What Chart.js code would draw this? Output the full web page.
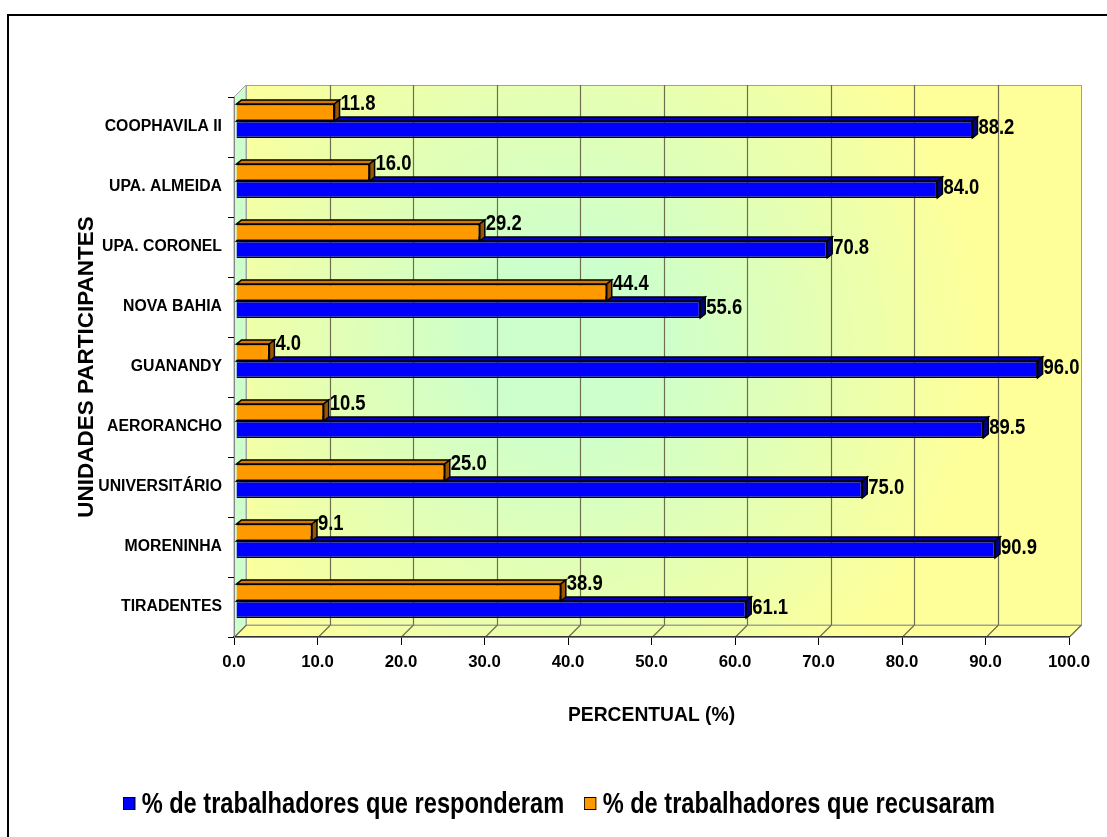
<!DOCTYPE html>
<html>
<head>
<meta charset="utf-8">
<script src="https://cdn.jsdelivr.net/npm/chart.js@4"></script>
<style>
  html, body { margin: 0; padding: 0; background: #fff; overflow: hidden; }
  #wrap { position: relative; width: 1107px; height: 837px; }
  #frame { position: absolute; left: 7px; top: 14px; width: 1200px; height: 1000px; border: 2px solid #000; }
  #cv { position: absolute; left: 0; top: 0; }
  .item { position: absolute; top: 789px; height: 28px; display: flex; align-items: center;
          font-weight: bold; line-height: 28px; color: #000; white-space: nowrap; transform-origin: 0 50%; }
  .box { width: 11px; height: 11px; border: 1px solid #000; margin-right: 8px; }
</style>
</head>
<body>
<div id="wrap">
  <div id="frame"></div>
  <canvas id="cv" width="1107" height="837"></canvas>
  <div id="legend"></div>
</div>
<script>
const categories = ['COOPHAVILA II', 'UPA. ALMEIDA', 'UPA. CORONEL', 'NOVA BAHIA', 'GUANANDY', 'AERORANCHO', 'UNIVERSITÁRIO', 'MORENINHA', 'TIRADENTES'];
const responded = [88.2, 84.0, 70.8, 55.6, 96.0, 89.5, 75.0, 90.9, 61.1];
const refused = [11.8, 16.0, 29.2, 44.4, 4.0, 10.5, 25.0, 9.1, 38.9];
const xTicks = [0, 10, 20, 30, 40, 50, 60, 70, 80, 90, 100];
const seriesNames = ['% de trabalhadores que responderam', '% de trabalhadores que recusaram'];
const xTitle = 'PERCENTUAL (%)';
const yTitle = 'UNIDADES PARTICIPANTES';

// Font selection: prefer a narrow sans (reference looks like Arial Narrow); fall back to scaled regular.
const REG = '"Liberation Sans", Arial, sans-serif';
const NARROW = '"Liberation Sans Narrow", "Arial Narrow"';
const mctx = document.createElement('canvas').getContext('2d');
mctx.font = 'bold 20px "Liberation Sans"';
const wReg = mctx.measureText('COOPHAVILA II').width;
mctx.font = 'bold 20px ' + NARROW + ', "Liberation Sans"';
const wNar = mctx.measureText('COOPHAVILA II').width;
const narrowOK = wNar < 0.9 * wReg;
const TXT = narrowOK ? NARROW + ', ' + REG : REG;
const K = narrowOK ? 1 : 0.82;
const sz = s => Math.round(s * K * 10) / 10;

const BLUE = '#0000ff', BLUE_TOP = '#0000c0', BLUE_SIDE = '#000080';
const ORANGE = '#ff9900', ORANGE_TOP = '#d07800', ORANGE_SIDE = '#995500';

const WALL = 12;          // depth of 3D walls
const BDX = 5, BDY = 4;   // bar depth
const SHIFT_X = 2, SHIFT_Y = -6;

function wallGradient(ctx, a) {
  const cx = a.left + (a.right - a.left) * 0.40;
  const cy = a.top + (a.bottom - a.top) * 0.45;
  const g = ctx.createRadialGradient(cx, cy, 0, cx, cy, 420);
  g.addColorStop(0, '#ccffcc');
  g.addColorStop(0.2, '#ccffcc');
  g.addColorStop(1, '#ffff99');
  return g;
}

const wallsPlugin = {
  id: 'walls',
  beforeDraw(chart) {
    const {ctx, chartArea: a} = chart;
    const xs = chart.scales.x;
    const d = WALL;
    ctx.save();
    const g = wallGradient(ctx, a);
    ctx.fillStyle = g;
    ctx.fillRect(a.left + d, a.top - d, a.right - a.left, a.bottom - a.top);
    ctx.beginPath();
    ctx.moveTo(a.left, a.bottom);
    ctx.lineTo(a.left + d, a.bottom - d);
    ctx.lineTo(a.right + d, a.bottom - d);
    ctx.lineTo(a.right, a.bottom);
    ctx.closePath();
    ctx.fillStyle = g;
    ctx.fill();
    ctx.strokeStyle = '#a0a0a0';
    ctx.lineWidth = 1;
    ctx.stroke();
    ctx.beginPath();
    ctx.moveTo(a.left, a.top);
    ctx.lineTo(a.left + d, a.top - d);
    ctx.lineTo(a.left + d, a.bottom - d);
    ctx.lineTo(a.left, a.bottom);
    ctx.closePath();
    ctx.fillStyle = '#ccffcc';
    ctx.fill();
    ctx.stroke();
    ctx.strokeRect(a.left + d + 0.5, a.top - d + 0.5, a.right - a.left, a.bottom - a.top);
    ctx.strokeStyle = '#6e6e50';
    ctx.lineWidth = 1.2;
    xTicks.forEach(v => {
      const px = Math.round(xs.getPixelForValue(v)) + 0.5;
      ctx.beginPath();
      if (v > xTicks[0] && v < xTicks[xTicks.length - 1]) {
        ctx.moveTo(px + d, a.top - d);
        ctx.lineTo(px + d, a.bottom - d);
      }
      ctx.moveTo(px, a.bottom);
      ctx.lineTo(px + d, a.bottom - d);
      ctx.stroke();
    });
    ctx.restore();
  },
  beforeDatasetsDraw(chart) {
    chart.ctx.save();
    chart.ctx.translate(SHIFT_X, SHIFT_Y);
  },
  afterDatasetDraw(chart, args) {
    const {ctx} = chart;
    const meta = args.meta;
    const ds = chart.data.datasets[args.index];
    ctx.save();
    ctx.lineWidth = 1.5;
    ctx.strokeStyle = '#000';
    meta.data.forEach((el, i) => {
      const p = el.getProps(['x', 'y', 'base', 'height'], true);
      const top = p.y - p.height / 2, bot = p.y + p.height / 2;
      const l = p.base, r = p.x;
      ctx.beginPath();
      ctx.moveTo(l, top);
      ctx.lineTo(l + BDX, top - BDY);
      ctx.lineTo(r + BDX, top - BDY);
      ctx.lineTo(r, top);
      ctx.closePath();
      ctx.fillStyle = ds.topColor;
      ctx.fill();
      ctx.stroke();
      ctx.beginPath();
      ctx.moveTo(r, top);
      ctx.lineTo(r + BDX, top - BDY);
      ctx.lineTo(r + BDX, bot - BDY);
      ctx.lineTo(r, bot);
      ctx.closePath();
      ctx.fillStyle = ds.sideColor;
      ctx.fill();
      ctx.stroke();
      // value label (narrow look: horizontally compressed if no narrow font)
      ctx.save();
      ctx.translate(r + BDX + 1, p.y + ds.labelDy);
      ctx.scale(K, 1);
      ctx.fillStyle = '#000';
      ctx.font = 'bold 22.5px ' + TXT;
      ctx.textAlign = 'left';
      ctx.textBaseline = 'middle';
      ctx.fillText(ds.data[i].toFixed(1), 0, 0);
      ctx.restore();
    });
    ctx.restore();
  },
  afterDatasetsDraw(chart) {
    chart.ctx.restore();
  }
};

const ctx = document.getElementById('cv').getContext('2d');
new Chart(ctx, {
  type: 'bar',
  data: {
    labels: categories,
    datasets: [
      { label: seriesNames[1], data: refused, backgroundColor: ORANGE, borderColor: '#000', borderWidth: 1.5,
        topColor: ORANGE_TOP, sideColor: ORANGE_SIDE, labelDy: -9, clip: false },
      { label: seriesNames[0], data: responded, backgroundColor: BLUE, borderColor: '#000', borderWidth: 1.5,
        topColor: BLUE_TOP, sideColor: BLUE_SIDE, labelDy: -2, clip: false }
    ]
  },
  options: {
    indexAxis: 'y',
    responsive: false,
    animation: false,
    devicePixelRatio: 1,
    categoryPercentage: 0.567,
    barPercentage: 1,
    layout: { padding: { top: 97, right: 38, bottom: 110, left: 38 } },
    plugins: {
      legend: { display: false },
      tooltip: { enabled: false }
    },
    scales: {
      x: {
        min: 0, max: 100,
        afterBuildTicks: s => { s.ticks = xTicks.map(v => ({ value: v })); },
        afterFit: s => { s.height = 90; },
        ticks: { color: '#000', font: { family: TXT, size: sz(20.5), weight: 'bold' }, padding: 7,
                 callback: v => Number(v).toFixed(1), maxRotation: 0, autoSkip: false },
        grid: { drawOnChartArea: false, drawTicks: true, tickLength: 8, color: '#000', lineWidth: 1 },
        border: { display: true, color: '#333', width: 1.5 },
        title: { display: true, text: xTitle, color: '#000', padding: { top: 0, bottom: 0 },
                 font: { family: TXT, size: sz(23.5), weight: 'bold' } }
      },
      y: {
        afterFit: s => { s.width = 196; },
        ticks: { color: '#000', font: { family: TXT, size: sz(19.3), weight: 'bold' }, padding: 6 },
        grid: { drawOnChartArea: false, drawTicks: true, tickLength: 6, color: '#000', offset: true },
        border: { display: true, color: '#888', width: 1 },
        title: { display: true, text: yTitle, color: '#000', padding: { top: 35, bottom: 0 },
                 font: { family: REG, size: 22.5, weight: 'bold' } }
      }
    }
  },
  plugins: [wallsPlugin]
});

// legend (blue first, as in the reference)
const legend = document.getElementById('legend');
[[seriesNames[0], BLUE, 123], [seriesNames[1], ORANGE, 584]].forEach(([name, col, left]) => {
  const it = document.createElement('div');
  it.className = 'item';
  it.style.left = left + 'px';
  it.style.fontFamily = TXT;
  it.style.fontSize = '28.8px';
  it.style.transform = 'scaleX(' + K + ')';
  const b = document.createElement('div');
  b.className = 'box';
  b.style.width = (11 / K) + 'px';
  b.style.marginRight = (6 / K) + 'px';
  b.style.background = col;
  const t = document.createElement('span');
  t.textContent = name;
  it.appendChild(b); it.appendChild(t);
  legend.appendChild(it);
});
</script>
</body>
</html>
